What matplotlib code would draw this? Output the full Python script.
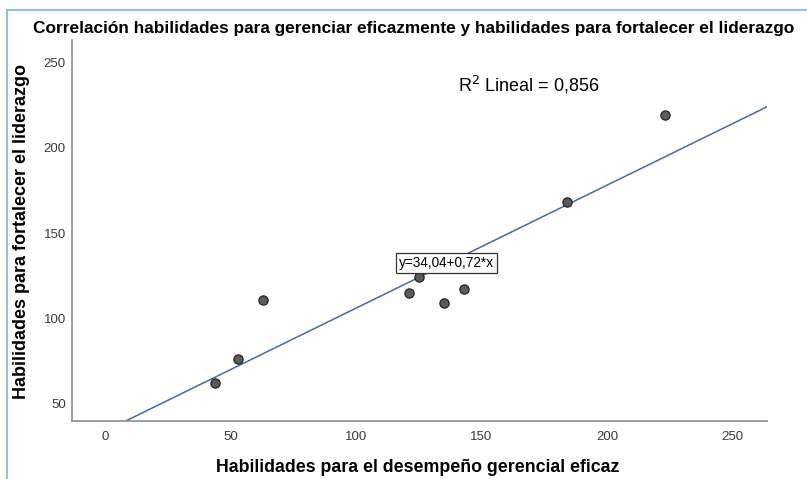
import matplotlib
matplotlib.use("Agg")
import matplotlib.pyplot as plt
from matplotlib.lines import Line2D
import numpy as np

plt.rcParams['font.family'] = ['Liberation Sans', 'DejaVu Sans']

# Data
x_desempeno = [44, 53, 63, 121, 125, 135, 143, 184, 223]
y_liderazgo = [62, 76, 111, 115, 124, 109, 117, 168, 219]
intercept = 34.04
slope = 0.72
r2 = "0,856"
x_ticks = [0, 50, 100, 150, 200, 250]
y_ticks = [50, 100, 150, 200, 250]

title = "Correlación habilidades para gerenciar eficazmente y habilidades para fortalecer el liderazgo"
xlabel = "Habilidades para el desempeño gerencial eficaz"
ylabel = "Habilidades para fortalecer el liderazgo"

W, H = 807, 479
fig = plt.figure(figsize=(W/100, H/100), dpi=100)
ax = fig.add_axes([72/W, 1-421/H, (767-72)/W, (421-40)/H])

xlim = (-13.1, 263.7)
ylim = (40.0, 263.0)
ax.set_xlim(*xlim)
ax.set_ylim(*ylim)

xs = np.array(xlim)
ax.plot(xs, intercept + slope*xs, color='#4a67a8', lw=1.1, zorder=2)
ax.scatter(x_desempeno, y_liderazgo, s=44, facecolor='#5c5c5c', edgecolor='#222222',
           linewidths=0.9, zorder=3)

for s in ['top', 'right']:
    ax.spines[s].set_visible(False)
for s in ['left', 'bottom']:
    ax.spines[s].set_color('#8c8c8c')
    ax.spines[s].set_linewidth(1.2)

ax.set_xticks(x_ticks)
ax.set_yticks(y_ticks)
ax.tick_params(length=0, labelsize=9.5, colors='#3a3a3a')
ax.tick_params(axis='y', pad=4.5)
ax.tick_params(axis='x', pad=7)

ax.set_xlabel(xlabel, fontsize=12.8, fontweight='bold', va='center')
ax.xaxis.set_label_coords((418-72)/695, (421-467)/381)
ax.set_ylabel(ylabel, fontsize=13, fontweight='bold', va='center')
ax.yaxis.set_label_coords((22-72)/695, (421-231.5)/381)

fig.text(33/W, 1-28/H, title, fontsize=12.45, fontweight='bold', ha='left', va='center')

fig.text(458/W, 1-85/H, "R$^{2}$ Lineal = " + r2, fontsize=13, ha='left', va='center')

ax.annotate("y=34,04+0,72*x", xy=(446.5/W, 1-263/H), xycoords='figure fraction',
            ha='center', va='center', fontsize=9.8,
            bbox=dict(boxstyle='square,pad=0.2', facecolor='white', edgecolor='#333333', lw=0.9))

border = '#7fb0e0'
fig.add_artist(Line2D([7/W, 7/W], [0, 1-10/H], transform=fig.transFigure, color=border, lw=1.2))
fig.add_artist(Line2D([7/W, 1], [1-10/H, 1-10/H], transform=fig.transFigure, color=border, lw=1.2))

fig.savefig("out.png", dpi=100)
